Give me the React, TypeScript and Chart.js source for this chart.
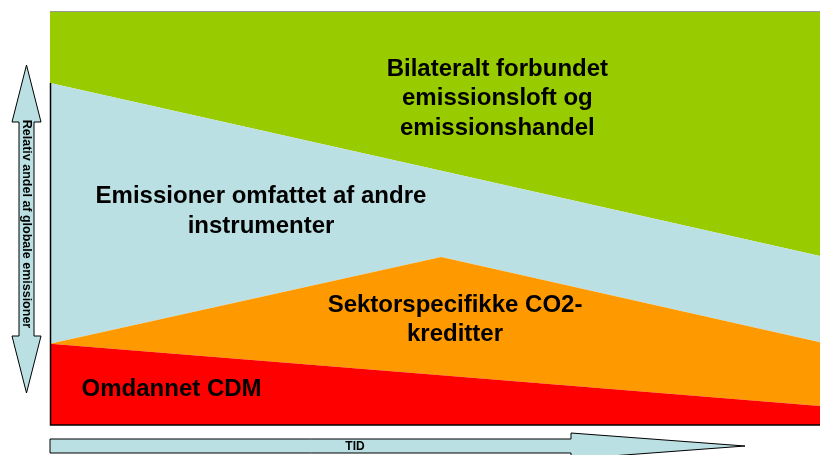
import React, { useEffect, useRef } from "react";
import { Chart, registerables } from "chart.js";

Chart.register(...registerables);

// Time positions (percent of the time axis)
const timePoints = [0, 50.8, 100];
// Stacked shares (percent of global emissions)
const cdmShare = [19.6, 12.0, 4.6];
const sectorShare = [0, 28.6, 15.4];
const otherShare = [63.0, 20.8, 20.8];
const bilateralShare = [17.4, 38.6, 59.2];

const seriesNames = [
  "Omdannet CDM",
  "Sektorspecifikke CO2-kreditter",
  "Emissioner omfattet af andre instrumenter",
  "Bilateralt forbundet emissionsloft og emissionshandel",
];
const seriesColors = ["#FF0000", "#FF9900", "#BBE0E3", "#99CC00"];

const labelBlocks: { lines: string[]; x: number; y: number }[] = [
  { lines: ["Bilateralt forbundet", "emissionsloft og", "emissionshandel"], x: 58.1, y: 86.0 },
  { lines: ["Emissioner omfattet af andre", "instrumenter"], x: 27.4, y: 55.2 },
  { lines: ["Sektorspecifikke CO2-", "kreditter"], x: 52.6, y: 29.0 },
  { lines: ["Omdannet CDM"], x: 4.1, y: 8.7 },
];
const yAxisTitle = "Relativ andel af globale emissioner";
const xAxisTitle = "TID";

const FONT = '"Liberation Sans", Arial, sans-serif';

const decorPlugin = {
  id: "decor",
  afterDatasetsDraw(chart: any) {
    const { ctx, chartArea, scales } = chart;
    const xs = scales.x;
    const ys = scales.y;
    ctx.save();
    // plot borders
    ctx.strokeStyle = "#999999";
    ctx.lineWidth = 1;
    ctx.beginPath();
    ctx.moveTo(chartArea.left, chartArea.top + 0.5);
    ctx.lineTo(chartArea.right, chartArea.top + 0.5);
    ctx.stroke();
    const blueTop = ys.getPixelForValue(cdmShare[0] + sectorShare[0] + otherShare[0]);
    ctx.strokeStyle = "#000000";
    ctx.lineWidth = 1.5;
    ctx.beginPath();
    ctx.moveTo(chartArea.left + 0.5, blueTop);
    ctx.lineTo(chartArea.left + 0.5, chartArea.bottom);
    ctx.lineTo(chartArea.right, chartArea.bottom);
    ctx.stroke();

    // labels
    ctx.fillStyle = "#000000";
    ctx.font = `bold 24px ${FONT}`;
    ctx.textBaseline = "middle";
    labelBlocks.forEach((b, i) => {
      const px = xs.getPixelForValue(b.x);
      const py = ys.getPixelForValue(b.y);
      if (i === 3) {
        ctx.textAlign = "left";
        ctx.fillText(b.lines[0], px, py);
      } else {
        ctx.textAlign = "center";
        b.lines.forEach((l, k) => ctx.fillText(l, px, py + k * 29.5));
      }
    });

    // vertical double arrow
    const ax = 26.5;
    const top = 65, bot = 393, headH = 57, headW = 14.5, shaftW = 7.5;
    ctx.beginPath();
    ctx.moveTo(ax, top);
    ctx.lineTo(ax + headW, top + headH);
    ctx.lineTo(ax + shaftW, top + headH);
    ctx.lineTo(ax + shaftW, bot - headH);
    ctx.lineTo(ax + headW, bot - headH);
    ctx.lineTo(ax, bot);
    ctx.lineTo(ax - headW, bot - headH);
    ctx.lineTo(ax - shaftW, bot - headH);
    ctx.lineTo(ax - shaftW, top + headH);
    ctx.lineTo(ax - headW, top + headH);
    ctx.closePath();
    ctx.fillStyle = "#BBE0E3";
    ctx.fill();
    ctx.strokeStyle = "#000000";
    ctx.lineWidth = 1;
    ctx.stroke();
    ctx.save();
    ctx.translate(ax, 224);
    ctx.rotate(Math.PI / 2);
    ctx.fillStyle = "#000000";
    ctx.font = `bold 12.5px ${FONT}`;
    ctx.textAlign = "center";
    ctx.textBaseline = "middle";
    ctx.fillText(yAxisTitle, 0, 0);
    ctx.restore();

    // horizontal arrow
    const hy = 446;
    ctx.beginPath();
    ctx.moveTo(50, hy - 7);
    ctx.lineTo(571, hy - 7);
    ctx.lineTo(571, hy - 13);
    ctx.lineTo(745, hy);
    ctx.lineTo(571, hy + 13);
    ctx.lineTo(571, hy + 7);
    ctx.lineTo(50, hy + 7);
    ctx.closePath();
    ctx.fillStyle = "#BBE0E3";
    ctx.fill();
    ctx.strokeStyle = "#000000";
    ctx.stroke();
    ctx.fillStyle = "#000000";
    ctx.font = `bold 12px ${FONT}`;
    ctx.textAlign = "center";
    ctx.textBaseline = "middle";
    ctx.fillText(xAxisTitle, 355, hy + 1);
    ctx.restore();
  },
};

export default function App() {
  const ref = useRef<HTMLCanvasElement | null>(null);
  useEffect(() => {
    if (!ref.current) return;
    const series = [cdmShare, sectorShare, otherShare, bilateralShare];
    const chart = new Chart(ref.current, {
      type: "line",
      data: {
        datasets: series.map((s, i) => ({
          label: seriesNames[i],
          data: s.map((v, k) => ({ x: timePoints[k], y: v })),
          backgroundColor: seriesColors[i],
          borderColor: seriesColors[i],
          borderWidth: 0,
          pointRadius: 0,
          tension: 0,
          fill: i === 0 ? "origin" : "-1",
        })),
      },
      options: {
        animation: false,
        responsive: false,
        maintainAspectRatio: false,
        layout: { padding: { left: 50, top: 11, right: 0, bottom: 30 } },
        plugins: { legend: { display: false }, tooltip: { enabled: false } },
        scales: {
          x: { type: "linear", min: 0, max: 100, display: false },
          y: { stacked: true, min: 0, max: 100, display: false },
        },
      },
      plugins: [decorPlugin],
    });
    return () => chart.destroy();
  }, []);
  return (
    <div style={{ position: "fixed", left: 0, top: 0, width: 820, height: 455, background: "#fff" }}>
      <canvas ref={ref} width={820} height={455} style={{ display: "block" }} />
    </div>
  );
}
